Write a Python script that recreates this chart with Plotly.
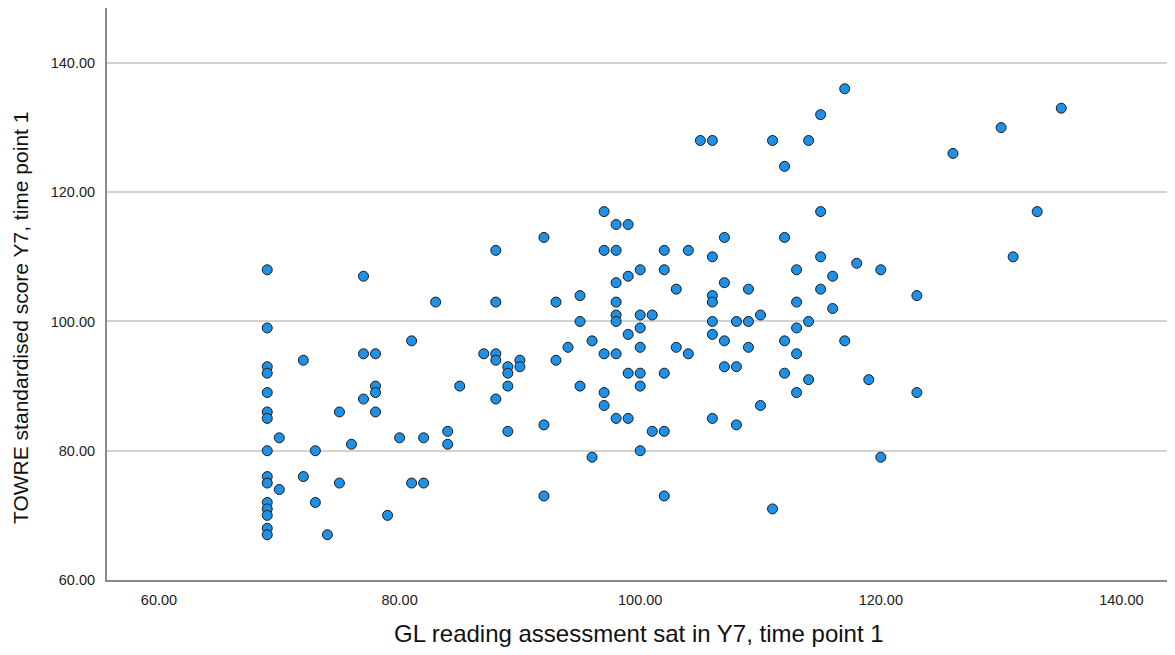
import plotly.graph_objects as go

# GL reading assessment score (x) -> list of TOWRE standardised scores (y)
gl_69 = [108, 99, 93, 92, 89, 86, 85, 80, 76, 75, 72, 71, 70, 68, 67]
columns = {
    69: gl_69,
    70: [82, 74],
    72: [94, 76],
    73: [80, 72],
    74: [67],
    75: [86, 75],
    76: [81],
    77: [107, 95, 88],
    78: [95, 90, 89, 86],
    79: [70],
    80: [82],
    81: [97, 75],
    82: [82, 75],
    83: [103],
    84: [83, 81],
    85: [90],
    87: [95],
    88: [111, 103, 95, 94, 88],
    89: [93, 92, 90, 83],
    90: [94, 93],
    92: [113, 84, 73],
    93: [103, 94],
    94: [96],
    95: [104, 100, 90],
    96: [97, 79],
    97: [117, 111, 95, 89, 87],
    98: [115, 111, 106, 103, 101, 100, 95, 85],
    99: [115, 107, 98, 92, 85],
    100: [108, 101, 99, 96, 92, 90, 80],
    101: [101, 83],
    102: [111, 108, 92, 83, 73],
    103: [105, 96],
    104: [111, 95],
    105: [128],
    106: [128, 110, 104, 103, 100, 98, 85],
    107: [113, 106, 97, 93],
    108: [100, 93, 84],
    109: [105, 100, 96],
    110: [101, 87],
    111: [128, 71],
    112: [124, 113, 97, 92],
    113: [108, 103, 99, 95, 89],
    114: [128, 100, 91],
    115: [132, 117, 110, 105],
    116: [107, 102],
    117: [136, 97],
    118: [109],
    119: [91],
    120: [108, 79],
    123: [104, 89],
    126: [126],
    130: [130],
    131: [110],
    133: [117],
    135: [133],
}

gl_scores = [gx for gx, ys in columns.items() for _ in ys]
towre_scores = [gy for ys in columns.values() for gy in ys]

tick_vals = [60, 80, 100, 120, 140]
tick_text = ["60.00", "80.00", "100.00", "120.00", "140.00"]

x_title = "GL reading assessment sat in Y7, time point 1"
y_title = "TOWRE standardised score Y7, time point 1"

fig = go.Figure(
    go.Scatter(
        x=gl_scores,
        y=towre_scores,
        mode="markers",
        marker=dict(size=10, color="#1e90e6", line=dict(color="#1a1a1a", width=1)),
        hoverinfo="x+y",
    )
)

# the page body has an 8px margin, so the figure is sized to fit inside the window
fig.update_layout(
    width=1159,
    height=639,
    margin=dict(l=99, r=0, t=0, b=67, autoexpand=False),
    paper_bgcolor="white",
    plot_bgcolor="white",
    showlegend=False,
    font=dict(family="Liberation Sans, Arial, sans-serif", color="#222"),
    annotations=[
        dict(
            text=x_title, xref="paper", yref="paper", x=0.502, y=-0.0927,
            xanchor="center", yanchor="middle", showarrow=False,
            font=dict(size=24, color="#111"),
        ),
        dict(
            text=y_title, xref="paper", yref="paper", x=-0.0821, y=0.458,
            xanchor="center", yanchor="middle", showarrow=False, textangle=-90,
            font=dict(size=21, color="#111"),
        ),
    ],
)

fig.update_xaxes(
    range=[55.68, 143.79],
    tickvals=tick_vals,
    ticktext=tick_text,
    showgrid=False,
    zeroline=False,
    showline=True,
    linecolor="#8a8a8a",
    linewidth=2,
    ticks="",
    ticklabelstandoff=6,
    automargin=False,
    tickfont=dict(size=14.5, color="#222"),
)

fig.update_yaxes(
    range=[60, 148.5],
    tickvals=tick_vals,
    ticktext=tick_text,
    showgrid=True,
    gridcolor="#d2d2d2",
    gridwidth=1.5,
    zeroline=False,
    showline=True,
    linecolor="#8a8a8a",
    linewidth=2,
    ticks="",
    ticklabelstandoff=7,
    automargin=False,
    tickfont=dict(size=14.5, color="#222"),
)

fig.write_html("out.html")
